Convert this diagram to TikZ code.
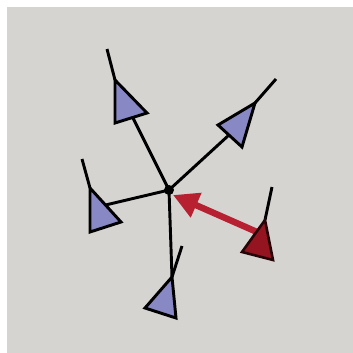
\documentclass[tikz,border=0pt]{standalone}
\usepackage{xcolor}
\usepackage{tikz}
\usetikzlibrary{arrows.meta}
\definecolor{paperc}{RGB}{214,212,208}
\definecolor{sensorc}{RGB}{136,136,196}
\definecolor{sourcec}{RGB}{148,20,32}
\definecolor{pullc}{RGB}{182,32,48}

\begin{document}
\begin{tikzpicture}[x=0.03cm,y=-0.03cm,
    wire/.style={black,line width=2.5pt},
    sensor/.style={fill=sensorc,draw=black,line width=2.5pt},
    source/.style={fill=sourcec,draw=black!75!sourcec,line width=2.2pt}]
  \useasboundingbox (0,0) rectangle (353,353);
  % ---- paper ----
  \fill[white] (0,0) rectangle (353,353);
  \fill[paperc] (7,7) rectangle (353,353);
  % ---- hub + attach points ----
  \coordinate (hub) at (169,190);
  \coordinate (a1) at (115,80);  \coordinate (e1) at (107,49);  \coordinate (s1) at (133,118);
  \coordinate (a2) at (255,103); \coordinate (e2) at (276,79);  \coordinate (s2) at (229,135);
  \coordinate (a3) at (90,188);  \coordinate (e3) at (82,159);  \coordinate (s3) at (105.5,205);
  \coordinate (a4) at (172,277); \coordinate (e4) at (182,246);
  \coordinate (a5) at (265,220); \coordinate (e5) at (272,187); \coordinate (s5) at (257,232);
  \coordinate (tip) at (173,195);
  % ---- spokes ----
  \draw[wire] (hub) -- (s1);
  \draw[wire] (hub) -- (s2);
  \draw[wire] (hub) -- (s3);
  \draw[wire] (hub) -- (a4);
  % ---- antenna ticks ----
  \draw[wire] (a1) -- (e1);
  \draw[wire] (a2) -- (e2);
  \draw[wire] (a3) -- (e3);
  \draw[wire] (a4) -- (e4);
  \draw[wire] (a5) -- (e5);
  % ---- sensors ----
  \filldraw[sensor] (a1) -- (115,123) -- (147,113) -- cycle;
  \filldraw[sensor] (a2) -- (242,147) -- (218,125) -- cycle;
  \filldraw[sensor] (a3) -- (90,232) -- (121,222) -- cycle;
  \filldraw[sensor] (a4) -- (145,308) -- (176,318) -- cycle;
  % ---- hub dot ----
  \fill[black] (hub) circle[radius=5];
  % ---- pull towards hub ----
  \draw[pullc,line width=5.5pt,-{Triangle[length=7.6mm,width=7.6mm]}] (s5) -- (tip);
  % ---- source ----
  \filldraw[source] (a5) -- (242,252) -- (273,260) -- cycle;
\end{tikzpicture}
\end{document}
